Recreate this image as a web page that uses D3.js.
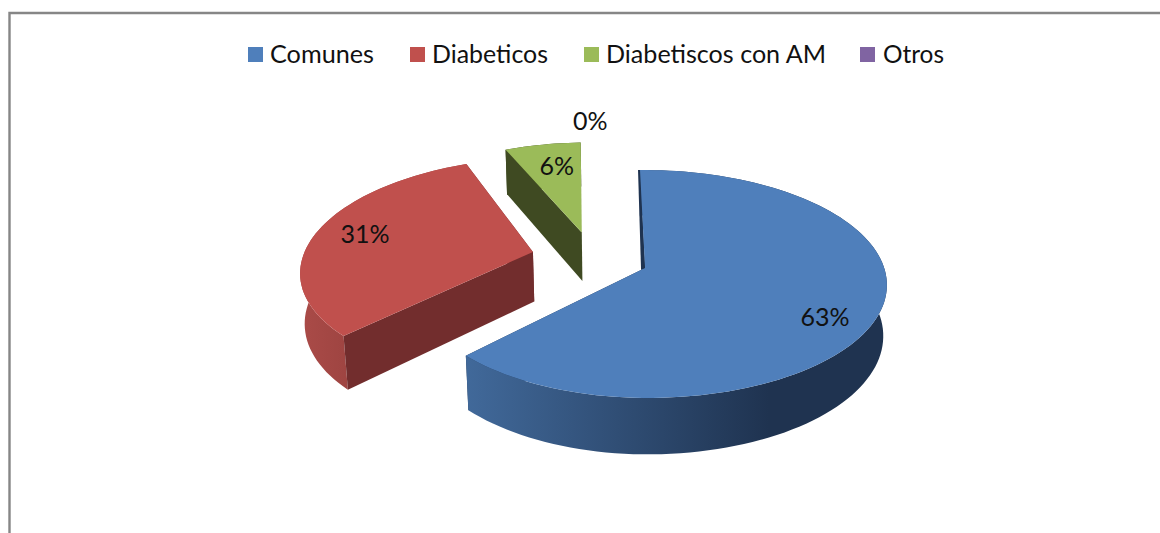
<!DOCTYPE html>
<html><head><meta charset="utf-8">
<script src="https://cdn.jsdelivr.net/npm/d3@7"></script>
<style>html,body{margin:0;padding:0;background:#fff}svg{display:block}text{font-family:Lato,Carlito,"Open Sans",sans-serif;fill:#111}</style>
</head><body><div id="c"></div>
<script>
const categories = ["Comunes","Diabeticos","Diabetiscos con AM","Otros"];
const shares = [62.5,31.25,6.25,0];
const colors = ["#4f7fbb","#c0504d","#9bbb59","#8064a2"];

const W=1160,H=533;
// camera
const cam={cx:630,cy:265.4,A:111,B:242,p:0.14,r:0.014,H:51};
// per-slice world offset (pie radii), rotation (deg) and horizontal radius factors
const explodeX=[0.062,-0.408,-0.208], explodeY=[0.023,-0.123,-0.310];
const turn0=[-0.9,0,-2], turn1=[0,0,-2];
const widthL=[0.949,0.96,0.95], widthR=[0.985,1,1];
const labelR=[0.81,0.752,0.73,1.6], labelTurn=[8.5,2,0.3,-7.2];
const wallStops=[["#41699a","#1f3350"],["#aa4b48","#9e4441"],["#3f4a22","#3f4a22"]];
const radialFill=["#1f3350","#722d2d","#3f4a22"];
const sliver=4; // visible width of the blue slice's back face at its apex

const svg=d3.select("#c").append("svg").attr("width",W).attr("height",H);
const defs=svg.append("defs");

// frame
svg.append("path").attr("d",`M9.5,${H}V13H${W}`).attr("fill","none").attr("stroke","#868686").attr("stroke-width",2.4);

const proj=(X,Y,z)=>{const d=1-cam.p*Y+cam.r*z;return [cam.cx+cam.B*X/d,cam.cy+(cam.A*Y+cam.H*z)/d];};
const line=d3.line();
const arcs=d3.pie().sort(null).value(d=>d)(shares);
const toDeg=180/Math.PI, toRad=Math.PI/180;

const rimWorld=(i,t)=>{const s=Math.sin(t);return [explodeX[i]+s*(s<0?widthL[i]:widthR[i]),explodeY[i]-Math.cos(t)];};
function rimPts(i,a0,a1,z,rev){
  const n=Math.max(2,Math.ceil((a1-a0)*toDeg/2));
  const ts=d3.range(n+1).map(k=>a0+(a1-a0)*k/n);
  if(rev)ts.reverse();
  return ts.map(t=>{const w=rimWorld(i,t);return proj(w[0],w[1],z);});
}
[2,1,0].forEach(i=>{
  const s=arcs[i];
  const a0=s.startAngle+turn0[i]*toRad, a1=s.endAngle+turn1[i]*toRad, ox=explodeX[i], oy=explodeY[i];
  const g=svg.append("g");
  const top=rimPts(i,a0,a1,0,false), bot=rimPts(i,a0,a1,1,true);
  const radial=a=>{const w=rimWorld(i,a);return [proj(ox,oy,0),proj(w[0],w[1],0),proj(w[0],w[1],1),proj(ox,oy,1)];};
  g.append("path").attr("d",line(radial(a1))+"Z").attr("fill",radialFill[i]);
  const ext=d3.extent(top.concat(bot),d=>d[0]);
  const gid="w"+i;
  const lg=defs.append("linearGradient").attr("id",gid).attr("gradientUnits","userSpaceOnUse")
    .attr("x1",ext[0]).attr("x2",i===0?ext[0]+(ext[1]-ext[0])*0.72:i===1?ext[0]+50:ext[1]).attr("y1",0).attr("y2",0);
  lg.append("stop").attr("offset",0).attr("stop-color",wallStops[i][0]);
  lg.append("stop").attr("offset",1).attr("stop-color",wallStops[i][1]);
  g.append("path").attr("d",line(top.concat(bot))+"Z").attr("fill",`url(#${gid})`);
  g.append("path").attr("d",line(radial(a0))+"Z").attr("fill",radialFill[i]);
  if(i===0){
    const apex=proj(ox,oy,0), w=rimWorld(i,a0), rim=proj(w[0],w[1],0);
    g.append("path").attr("d",line([[rim[0]-sliver*0.5,rim[1]],rim,apex,[apex[0]-sliver,apex[1]+2]])+"Z").attr("fill",radialFill[i]);
  }
  g.append("path").attr("d",line([proj(ox,oy,0)].concat(top))+"Z").attr("fill",colors[i]);
});

// data labels
arcs.forEach((s,i)=>{
  const mid=(s.startAngle+s.endAngle)/2+labelTurn[i]*toRad;
  const ox=explodeX[i]||0, oy=explodeY[i]||0;
  const [x,y]=proj(ox+labelR[i]*Math.sin(mid),oy-labelR[i]*Math.cos(mid),0);
  svg.append("text").attr("x",x).attr("y",y).attr("text-anchor","middle").attr("dy","0.36em")
    .attr("font-size",25).text(Math.round(shares[i])+"%");
});

// legend
const swatchX=[248,410,584,860], textX=[270,432,606,883], textW=[104,116,220,61];
categories.forEach((c,i)=>{
  svg.append("rect").attr("x",swatchX[i]).attr("y",47).attr("width",15).attr("height",15).attr("fill",colors[i]);
  svg.append("text").attr("x",textX[i]).attr("y",63).attr("font-size",25)
    .attr("textLength",textW[i]).attr("lengthAdjust","spacingAndGlyphs").text(c);
});
</script></body></html>
